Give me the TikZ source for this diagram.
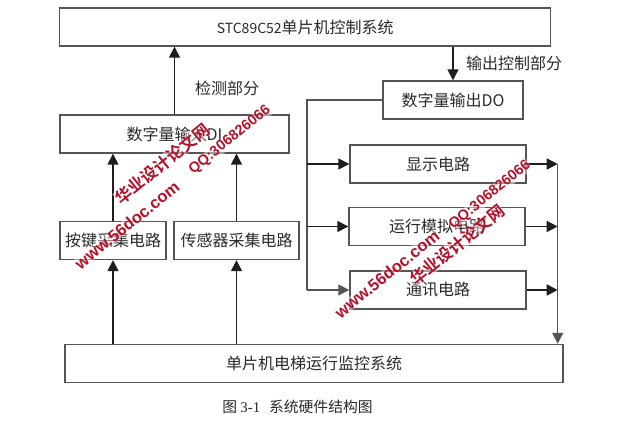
\documentclass[tikz,border=0pt]{standalone}
\usepackage{fontspec}
\setmainfont{Noto Sans CJK SC}
\newfontfamily\capfont{Liberation Serif}
\newfontfamily\wmcjk{Noto Sans CJK SC}[BoldFont={Noto Sans CJK SC Bold}]
\newfontfamily\wmlat{Liberation Sans}
\usetikzlibrary{arrows.meta}
\definecolor{boxline}{HTML}{555555}
\definecolor{wline}{HTML}{1E1E1E}
\definecolor{txt}{HTML}{2A2A2A}
\definecolor{wmred}{HTML}{B5122A}
\tikzset{
  x=1pt,y=-1pt,
  blockbox/.style={draw=boxline,line width=1.4pt,fill=white,inner sep=0pt,text=txt,font=\fontsize{16}{16}\selectfont},
  lbl/.style={inner sep=0pt,text=txt,font=\fontsize{16}{16}\selectfont},
  conn/.style={draw=wline,line width=1.5pt,-{Triangle[length=11pt,width=11pt]}},
  plainconn/.style={draw=boxline,line width=1.4pt},
  greyconn/.style={draw=boxline,line width=1.4pt,-{Triangle[length=11pt,width=11pt]}},
  wmark/.style={inner sep=0pt,text=wmred,rotate=39,fill=white,fill opacity=.45,text opacity=1},
}
\begin{document}
\begin{tikzpicture}
\useasboundingbox (0,0) rectangle (627,435);
\fill[white] (0,0) rectangle (627,435);
% boxes
\node[blockbox,minimum width=491pt,minimum height=38pt] (top) at (305.25,27) {{\fontsize{14}{14}\selectfont STC89C52}单片机控制系统};
\node[blockbox,minimum width=140pt,minimum height=38pt] (do) at (453,100) {数字量输出DO};
\node[blockbox,minimum width=229pt,minimum height=38pt] (di) at (174.5,134) {数字量输入DI};
\node[blockbox,minimum width=176pt,minimum height=38pt] (disp) at (438,164) {显示电路};
\node[blockbox,minimum width=176pt,minimum height=38pt] (run) at (437,226.5) {运行模拟电路};
\node[blockbox,minimum width=176pt,minimum height=38pt] (comm) at (438,290) {通讯电路};
\node[blockbox,minimum width=106pt,minimum height=38pt] (key) at (113,240.5) {按键采集电路};
\node[blockbox,minimum width=125pt,minimum height=38pt] (sen) at (236.5,240.5) {传感器采集电路};
\node[blockbox,minimum width=498pt,minimum height=38pt] (bot) at (314,363.5) {单片机电梯运行监控系统};
% free ends of buses
\coordinate (bl) at (307,100);
\coordinate (br) at (557.7,164);
% left side
\draw[conn] (di.north) -- (di.north |- top.south);
\draw[conn] (key.north) -- (key.north |- di.south);
\draw[conn] (sen.north) -- (sen.north |- di.south);
\draw[conn] (key.south |- bot.north) -- (key.south);
\draw[conn] (sen.south |- bot.north) -- (sen.south);
% output
\draw[conn] (do.north |- top.south) -- (do.north);
\draw[plainconn] (do.west) -- (bl) -- (bl |- comm.west);
\draw[conn] (bl |- disp.west) -- (disp.west);
\draw[conn] (bl |- run.west) -- (run.west);
\draw[greyconn] (bl |- comm.west) -- (comm.west);
\draw[conn] (disp.east) -- (br);
\draw[conn] (run.east) -- (br |- run.east);
\draw[conn] (comm.east) -- (br |- comm.east);
\draw[greyconn] (br) -- (br |- bot.north);
% labels
\node[lbl] (lab1) at (227,88) {检测部分};
\node[lbl] (lab2) at (514,63) {输出控制部分};
\node[inner sep=0pt,text=txt,font=\fontsize{14.8}{15}\selectfont] (cap) at (297.5,406.5) {图 {\capfont 3-1}\hspace{0.6em}系统硬件结构图};
% watermarks
\node[wmark,font=\wmcjk\bfseries\fontsize{16.5}{17}\selectfont] (w1) at (162,164) {华业设计论文网};
\node[wmark,font=\wmlat\bfseries\fontsize{14.5}{15}\selectfont] (w2) at (230,140) {QQ:306826066};
\node[wmark,font=\wmlat\bfseries\fontsize{16.5}{17}\selectfont] (w3) at (127,225) {www.56doc.com};
\node[wmark,font=\wmcjk\bfseries\fontsize{16.5}{17}\selectfont] (w4) at (457,245) {华业设计论文网};
\node[wmark,font=\wmlat\bfseries\fontsize{14.5}{15}\selectfont] (w5) at (490,195) {QQ:306826066};
\node[wmark,font=\wmlat\bfseries\fontsize{16.5}{17}\selectfont] (w6) at (387,274) {www.56doc.com};
\end{tikzpicture}
\end{document}
